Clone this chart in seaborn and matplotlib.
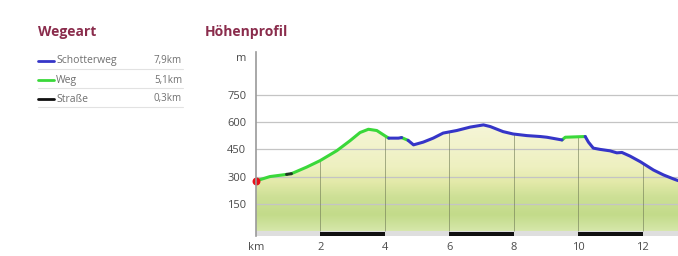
import numpy as np
import pandas as pd
import seaborn as sns
import matplotlib.pyplot as plt
from matplotlib.colors import LinearSegmentedColormap
from matplotlib.lines import Line2D

# --- data ---
km = [0.0, 0.43, 0.95, 1.1, 1.57, 1.99, 2.51, 2.92, 3.23, 3.49, 3.75, 4.01,
      4.12, 4.42, 4.52, 4.72, 4.89, 5.19, 5.5, 5.81, 6.23, 6.65, 7.06, 7.27,
      7.67, 7.98, 8.41, 8.82, 9.03, 9.5, 9.6, 10.22, 10.32, 10.47, 10.68,
      10.99, 11.2, 11.36, 11.61, 11.93, 12.34, 12.65, 12.96, 13.1]
elev = [276, 300, 312, 316, 352, 388, 443, 498, 543, 561, 554, 524,
        512, 512, 515, 500, 475, 490, 512, 540, 554, 573, 585, 576,
        548, 535, 526, 521, 517, 502, 517, 521, 490, 457, 450,
        442, 431, 433, 413, 382, 336, 309, 287, 278]
# surface type of the stretch that starts at each point
way = ["Weg", "Weg", "Straße", "Weg", "Weg", "Weg", "Weg", "Weg", "Weg", "Weg", "Weg", "Weg",
       "Schotterweg", "Schotterweg", "Weg", "Schotterweg", "Schotterweg", "Schotterweg",
       "Schotterweg", "Schotterweg", "Schotterweg", "Schotterweg", "Schotterweg", "Schotterweg",
       "Schotterweg", "Schotterweg", "Schotterweg", "Schotterweg", "Schotterweg", "Weg", "Weg",
       "Schotterweg", "Schotterweg", "Schotterweg", "Schotterweg", "Schotterweg", "Schotterweg",
       "Schotterweg", "Schotterweg", "Schotterweg", "Schotterweg", "Schotterweg", "Schotterweg",
       "Schotterweg"]

legend_names = ["Schotterweg", "Weg", "Straße"]
legend_dist = ["7,9km", "5,1km", "0,3km"]
way_colors = {"Schotterweg": "#3535c8", "Weg": "#3ad83a", "Straße": "#1f3a24"}
legend_colors = {"Schotterweg": "#3535c8", "Weg": "#3ad83a", "Straße": "#111111"}

y_ticks = [150, 300, 450, 600, 750]
x_ticks = [2, 4, 6, 8, 10, 12]

# build segments (each segment shares its end point with the next one)
rows = []
seg = 0
for i in range(len(km) - 1):
    if i > 0 and way[i] != way[i - 1]:
        seg += 1
    rows.append((km[i], elev[i], way[i], seg))
    rows.append((km[i + 1], elev[i + 1], way[i], seg))
df = pd.DataFrame(rows, columns=["km", "elev", "way", "seg"])

sns.set_theme(style="white")
plt.rcParams["font.family"] = ["Open Sans", "DejaVu Sans"]

W, H = 678, 256
fig = plt.figure(figsize=(W / 100, H / 100), dpi=100)
fig.patch.set_facecolor("white")

ymin, ymax = -30, 985
xmax = 13.1
ax = fig.add_axes([256 / W, 1 - 236.4 / H, (W - 256) / W, 184 / H])
ax.set_xlim(0, xmax)
ax.set_ylim(ymin, ymax)

# terrain fill with gradient
terrain = LinearSegmentedColormap.from_list(
    "terrain", [(0.0, "#d6e7aa"), (0.15, "#c3db8a"), (0.32, "#cde096"),
                (0.45, "#e2e9a8"), (0.6, "#eef0c0"), (1.0, "#f6f6d8")])
grad = np.linspace(0, 1, 256).reshape(-1, 1)
top = max(elev)
img = ax.imshow(grad, extent=[0, xmax, 0, top], origin="lower", aspect="auto",
                cmap=terrain, zorder=1)
poly = ax.fill_between(km, 0, elev, color="none", lw=0)
img.set_clip_path(poly.get_paths()[0], transform=ax.transData)

# grey band and black distance bars
ax.axhspan(ymin, 0, color="#dedede", lw=0, zorder=1)
for x0 in [2, 6, 10]:
    ax.fill_between([x0, x0 + 2], -27, -6, color="#111111", lw=0, zorder=2)

# horizontal grid
for yv in y_ticks:
    ax.axhline(yv, color="#c4c4c4", lw=0.9, zorder=2)
# vertical grid only inside the terrain
for xv in x_ticks:
    ax.vlines(xv, 0, np.interp(xv, km, elev), color="#6f7a55", lw=0.7, alpha=0.6, zorder=2)

sns.lineplot(data=df, x="km", y="elev", hue="way", units="seg", estimator=None,
             palette=way_colors, lw=2.2, legend=False, sort=False, ax=ax, zorder=4)
ax.scatter([km[0]], [elev[0]], s=22, color="#e8101a", zorder=5, clip_on=False)

ax.set_xlabel("")
ax.set_ylabel("")
for s in ["top", "right", "bottom"]:
    ax.spines[s].set_visible(False)
ax.spines["left"].set_color("#9a9a9a")
ax.spines["left"].set_linewidth(1.2)
ax.spines["left"].set_zorder(6)
ax.set_yticks(y_ticks + [960])
ax.set_yticklabels([str(v) for v in y_ticks] + ["m"])
ax.set_xticks([0] + x_ticks)
ax.set_xticklabels(["km"] + [str(v) for v in x_ticks])
ax.tick_params(axis="both", length=0, labelsize=8, labelcolor="#4a4a4a")
ax.tick_params(axis="y", pad=7)
ax.tick_params(axis="x", pad=4)
ax.grid(False)

# overlay in pixel coordinates for titles and the legend table
ov = fig.add_axes([0, 0, 1, 1], zorder=-1)
ov.set_xlim(0, W)
ov.set_ylim(H, 0)
ov.axis("off")
title_color = "#8a2c4c"
ov.text(38, 32, "Wegeart", fontsize=10, fontweight="bold", color=title_color, va="center")
ov.text(205, 32, "Höhenprofil", fontsize=10, fontweight="bold", color=title_color, va="center")

row_y = [61, 80, 99]
for name, dist, yv in zip(legend_names, legend_dist, row_y):
    ov.add_line(Line2D([38, 54], [yv, yv], color=legend_colors[name], lw=2))
    ov.text(56, yv, name, fontsize=7.5, color="#707070", va="center")
    ov.text(182, yv, dist, fontsize=7, color="#707070", va="center", ha="right")
    ov.add_line(Line2D([38, 183], [yv + 8, yv + 8], color="#e2e2e2", lw=0.8))

fig.savefig("out.png", dpi=100)
